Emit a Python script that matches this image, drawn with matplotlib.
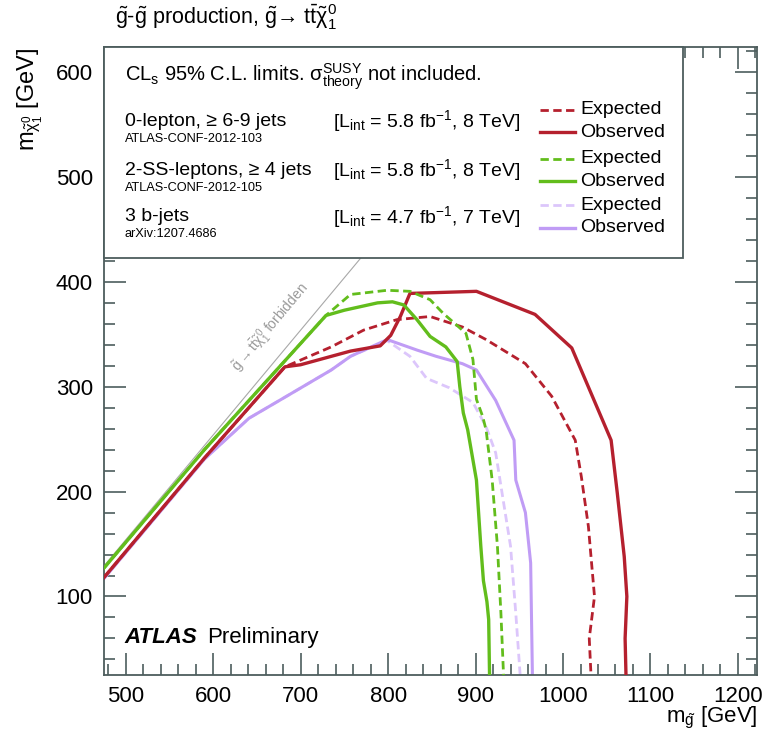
import matplotlib
matplotlib.use('Agg')
import matplotlib.pyplot as plt
from matplotlib.patches import Rectangle
from matplotlib.ticker import MultipleLocator

plt.rcParams['font.family'] = ['Liberation Sans', 'DejaVu Sans']
plt.rcParams['mathtext.fontset'] = 'custom'
plt.rcParams['mathtext.rm'] = 'Liberation Sans'
plt.rcParams['mathtext.it'] = 'Liberation Sans:italic'
plt.rcParams['mathtext.bf'] = 'Liberation Sans:bold'
plt.rcParams['mathtext.default'] = 'regular'

# limit contours (m_gluino, m_neutralino) in GeV
red_obs_x = [475, 590, 682, 700, 735, 757, 791, 803, 814, 825, 901, 968, 1010, 1055, 1062, 1070, 1073, 1071, 1072]
red_obs_y = [118, 232, 319, 321, 329, 334, 339, 349, 367, 389, 391, 369, 337, 249, 199, 138, 100, 60, 25]
red_exp_x = [475, 590, 682, 735, 772, 810, 848, 885, 912, 957, 987, 1014, 1021, 1029, 1032, 1036, 1030, 1032]
red_exp_y = [118, 232, 319, 338, 354, 364, 367, 357, 345, 322, 291, 249, 214, 167, 138, 100, 60, 25]

green_obs_x = [475, 590, 729, 750, 788, 805, 818, 833, 848, 866, 879, 882, 886, 891, 901, 906, 909, 913, 915, 916]
green_obs_y = [127, 240, 368, 373, 380, 381, 378, 364, 348, 338, 324, 300, 275, 259, 211, 148, 115, 95, 78, 25]
green_exp_x = [475, 590, 729, 757, 799, 825, 848, 863, 889, 897, 901, 908, 912, 919, 925, 929, 932]
green_exp_y = [127, 240, 368, 388, 392, 391, 383, 370, 351, 326, 288, 272, 259, 211, 148, 84, 25]

purple_obs_x = [475, 590, 641, 682, 735, 757, 799, 833, 855, 885, 901, 923, 944, 946, 957, 963, 965]
purple_obs_y = [117, 231, 270, 290, 316, 329, 345, 335, 329, 322, 316, 287, 249, 211, 180, 132, 25]
purple_exp_x = [475, 590, 641, 682, 735, 757, 799, 825, 844, 870, 897, 912, 923, 931, 940, 946, 951]
purple_exp_y = [117, 231, 270, 290, 316, 329, 344, 329, 308, 299, 285, 262, 237, 195, 148, 84, 25]

kin_x = [475, 772]
kin_y = [x - 346 for x in kin_x]

red = '#b5202e'
green = '#62bd1c'
purple_o = '#c09cf5'
purple_e = '#dcc6fb'
frame = '#4d5d5d'

fig = plt.figure(figsize=(7.75, 7.46), dpi=100)
ax = fig.add_axes([0.134, 0.095, 0.843, 0.842])
ax.set_xlim(475, 1222)
ax.set_ylim(25, 624)

ax.plot(kin_x, kin_y, color='#a8a8a8', lw=0.8, zorder=1)
ax.text(666, 356, r'$\tilde{g}\rightarrow t\bar{t}\tilde{\chi}^{0}_{1}$ forbidden',
        rotation=50, color='#9a9a9a', fontsize=10, ha='center', va='center')

dash = (3, 1.6)
ax.plot(purple_exp_x, purple_exp_y, color=purple_e, lw=2.0, dashes=dash, zorder=2)
ax.plot(purple_obs_x, purple_obs_y, color=purple_o, lw=2.2, zorder=2)
ax.plot(red_exp_x, red_exp_y, color=red, lw=2.0, dashes=dash, zorder=3)
ax.plot(red_obs_x, red_obs_y, color=red, lw=2.4, zorder=3)
ax.plot(green_exp_x, green_exp_y, color=green, lw=2.0, dashes=dash, zorder=3)
ax.plot(green_obs_x, green_obs_y, color=green, lw=2.4, zorder=3)

for s in ax.spines.values():
    s.set_color(frame)
    s.set_linewidth(1.3)
ax.xaxis.set_major_locator(MultipleLocator(100))
ax.xaxis.set_minor_locator(MultipleLocator(20))
ax.yaxis.set_major_locator(MultipleLocator(100))
ax.yaxis.set_minor_locator(MultipleLocator(20))
ax.tick_params(which='both', direction='in', top=True, right=True, color=frame, width=1.2,
               labelsize=16, pad=8)
ax.tick_params(which='major', length=16)
ax.tick_params(which='minor', length=8)
ax.set_yticks([100, 200, 300, 400, 500, 600])

# legend box
ax.add_patch(Rectangle((0, 0.664), 0.887, 0.336, transform=ax.transAxes, facecolor='white',
                       edgecolor=frame, lw=1.3, zorder=5, clip_on=False))
T = ax.transAxes
ax.text(0.032, 0.952, r'CL$_{s}$ 95% C.L. limits. $\sigma^{SUSY}_{theory}$ not included.',
        transform=T, fontsize=14.5, va='center', zorder=6)
rows = [
    ('0-lepton, ≥ 6-9 jets', 'ATLAS-CONF-2012-103', r'[L$_{int}$ = 5.8 fb$^{-1}$, 8 TeV]', 0.882, red, red),
    ('2-SS-leptons, ≥ 4 jets', 'ATLAS-CONF-2012-105', r'[L$_{int}$ = 5.8 fb$^{-1}$, 8 TeV]', 0.804, green, green),
    ('3 b-jets', 'arXiv:1207.4686', r'[L$_{int}$ = 4.7 fb$^{-1}$, 7 TeV]', 0.730, purple_e, purple_o),
]
for name, ref, lumi, y, ce, co in rows:
    ax.text(0.032, y, name, transform=T, fontsize=14, va='center', zorder=6)
    ax.text(0.032, y - 0.028, ref, transform=T, fontsize=9.2, va='center', zorder=6)
    ax.text(0.351, y, lumi, transform=T, fontsize=14, va='center', zorder=6)
    ye = y + 0.018
    yo = y - 0.018
    ax.plot([0.668, 0.721], [ye, ye], transform=T, color=ce, lw=2.0, dashes=dash, zorder=6)
    ax.plot([0.668, 0.721], [yo, yo], transform=T, color=co, lw=2.4, zorder=6)
    ax.text(0.729, ye, 'Expected', transform=T, fontsize=14, va='center', zorder=6)
    ax.text(0.729, yo, 'Observed', transform=T, fontsize=14, va='center', zorder=6)

ax.text(0.032, 0.060, 'ATLAS', transform=T, fontsize=16, fontweight='bold', fontstyle='italic', va='center')
ax.text(0.158, 0.060, 'Preliminary', transform=T, fontsize=16, va='center')

fig.text(0.148, 0.976, r'$\tilde{g}$-$\tilde{g}$ production, $\tilde{g}$→ t$\bar{t}\tilde{\chi}^{0}_{1}$',
         fontsize=15.5, va='center')
fig.text(0.977, 0.037, r'm$_{\tilde{g}}$ [GeV]', fontsize=16, ha='right', va='center')
fig.text(0.039, 0.937, r'm$_{\tilde{\chi}^{0}_{1}}$ [GeV]', fontsize=17, rotation=90, ha='center', va='top')

fig.savefig('out.png', dpi=100)
